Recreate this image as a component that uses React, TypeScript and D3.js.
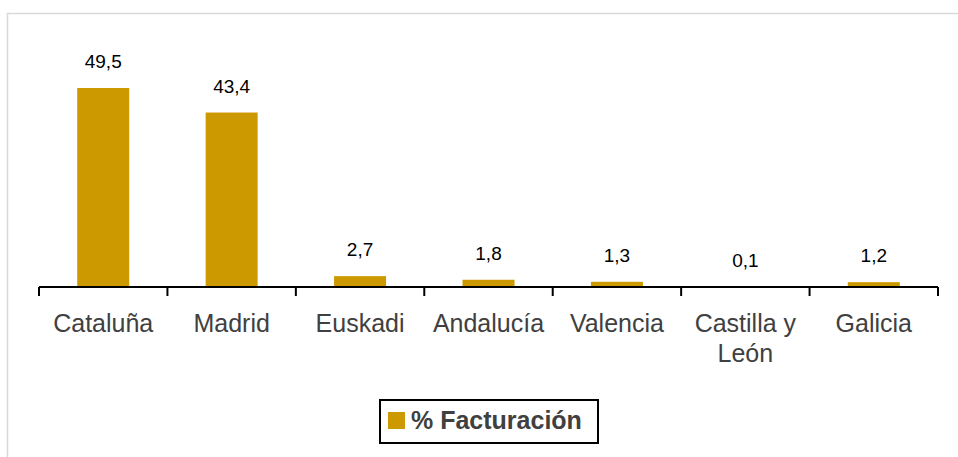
import React from "react";
import * as d3 from "d3";

const categories: string[][] = [
  ["Cataluña"],
  ["Madrid"],
  ["Euskadi"],
  ["Andalucía"],
  ["Valencia"],
  ["Castilla y", "León"],
  ["Galicia"],
];
const values: number[] = [49.5, 43.4, 2.7, 1.8, 1.3, 0.1, 1.2];
const seriesName = "% Facturación";

const W = 958;
const H = 457;
const FONT = "'Liberation Sans', Arial, Helvetica, sans-serif";
const BAR = "#CC9900";

export default function App() {
  const x = d3
    .scaleBand<number>()
    .domain(d3.range(values.length))
    .range([39, 938])
    .paddingInner(0)
    .paddingOuter(0);
  const y = d3.scaleLinear().domain([0, 50]).range([287, 86]);
  const bw = 52;
  const fmt = (v: number) => d3.format(".1f")(v).replace(".", ",");
  const ticks = d3.range(values.length + 1).map((i) => 39 + i * x.bandwidth());

  return (
    <svg
      width={W}
      height={H}
      style={{ position: "absolute", left: 0, top: 0, background: "#fff" }}
    >
      <rect x={7.5} y={13.5} width={W + 20} height={H + 20} fill="#fff" stroke="#d9d9d9" strokeWidth={1.5} />
      {values.map((v, i) => {
        const cx = (x(i) as number) + x.bandwidth() / 2;
        return (
          <g key={i}>
            <rect x={cx - bw / 2} y={y(v)} width={bw} height={y(0) - y(v)} fill={BAR} />
            <text
              x={cx}
              y={y(v) - 20}
              textAnchor="middle"
              fontFamily={FONT}
              fontSize={19}
              fill="#000"
            >
              {fmt(v)}
            </text>
            <text textAnchor="middle" fontFamily={FONT} fontSize={25} fill="#404040">
              {categories[i].map((line, j) => (
                <tspan key={j} x={cx} y={332 + j * 30}>
                  {line}
                </tspan>
              ))}
            </text>
          </g>
        );
      })}
      <line x1={39} x2={938} y1={287} y2={287} stroke="#000" strokeWidth={2} />
      {ticks.map((t, i) => (
        <line key={i} x1={t} x2={t} y1={287} y2={296} stroke="#000" strokeWidth={2} />
      ))}
      <g>
        <rect x={380} y={400} width={218} height={43} fill="#fff" stroke="#000" strokeWidth={2} />
        <rect x={388} y={412} width={17} height={17} fill={BAR} />
        <text x={411} y={429} fontFamily={FONT} fontSize={25} fontWeight="bold" fill="#404040">
          {seriesName}
        </text>
      </g>
    </svg>
  );
}
